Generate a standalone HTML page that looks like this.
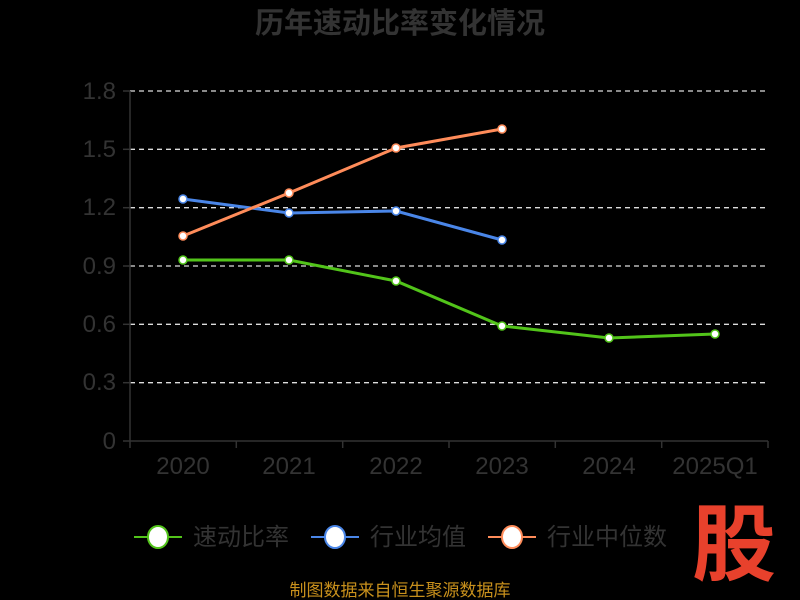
<!DOCTYPE html>
<html><head><meta charset="utf-8"><style>
html,body{margin:0;padding:0;background:#000;width:800px;height:600px;overflow:hidden}
text{font-family:"Liberation Sans","Noto Sans CJK SC",sans-serif}
</style></head><body>
<svg width="800" height="600" xmlns="http://www.w3.org/2000/svg">
<rect width="800" height="600" fill="#000"/>
<text x="400" y="33" text-anchor="middle" font-size="29" font-weight="bold" fill="#333">历年速动比率变化情况</text>
<g stroke="#ddd" stroke-dasharray="5,4" stroke-width="1.3">
<line x1="130" y1="91" x2="768" y2="91"/><line x1="130" y1="149.3" x2="768" y2="149.3"/>
<line x1="130" y1="207.7" x2="768" y2="207.7"/><line x1="130" y1="266" x2="768" y2="266"/>
<line x1="130" y1="324.3" x2="768" y2="324.3"/><line x1="130" y1="382.7" x2="768" y2="382.7"/>
</g>
<g stroke="#333" stroke-width="1.5">
<line x1="130" y1="91" x2="130" y2="441"/><line x1="130" y1="441" x2="768" y2="441"/>
<line x1="130" y1="441" x2="130" y2="448"/><line x1="236.3" y1="441" x2="236.3" y2="448"/>
<line x1="342.7" y1="441" x2="342.7" y2="448"/><line x1="449" y1="441" x2="449" y2="448"/>
<line x1="555.3" y1="441" x2="555.3" y2="448"/><line x1="661.7" y1="441" x2="661.7" y2="448"/>
<line x1="768" y1="441" x2="768" y2="448"/>
<line x1="123" y1="91" x2="130" y2="91"/><line x1="123" y1="149.3" x2="130" y2="149.3"/>
<line x1="123" y1="207.7" x2="130" y2="207.7"/><line x1="123" y1="266" x2="130" y2="266"/>
<line x1="123" y1="324.3" x2="130" y2="324.3"/><line x1="123" y1="382.7" x2="130" y2="382.7"/>
<line x1="123" y1="441" x2="130" y2="441"/>
</g>
<g fill="#333" font-size="24" text-anchor="end">
<text x="116" y="99">1.8</text><text x="116" y="157">1.5</text><text x="116" y="215">1.2</text>
<text x="116" y="274">0.9</text><text x="116" y="332">0.6</text><text x="116" y="390">0.3</text><text x="116" y="449">0</text>
</g>
<g fill="#333" font-size="24" text-anchor="middle">
<text x="183" y="474">2020</text><text x="289" y="474">2021</text><text x="396" y="474">2022</text>
<text x="502" y="474">2023</text><text x="609" y="474">2024</text><text x="715" y="474">2025Q1</text>
</g>
<polyline fill="none" stroke="#52c41a" stroke-width="3" points="183,260 289,260 396,281 502,326 609,338 715,334"/>
<polyline fill="none" stroke="#4a86e8" stroke-width="3" points="183,199 289,213 396,211 502,240"/>
<polyline fill="none" stroke="#ff8c5a" stroke-width="3" points="183,236 289,193 396,148 502,129"/>
<g fill="#fff" stroke="#52c41a" stroke-width="1.5">
<circle cx="183" cy="260" r="4"/><circle cx="289" cy="260" r="4"/><circle cx="396" cy="281" r="4"/>
<circle cx="502" cy="326" r="4"/><circle cx="609" cy="338" r="4"/><circle cx="715" cy="334" r="4"/></g>
<g fill="#fff" stroke="#4a86e8" stroke-width="1.5">
<circle cx="183" cy="199" r="4"/><circle cx="289" cy="213" r="4"/><circle cx="396" cy="211" r="4"/><circle cx="502" cy="240" r="4"/></g>
<g fill="#fff" stroke="#ff8c5a" stroke-width="1.5">
<circle cx="183" cy="236" r="4"/><circle cx="289" cy="193" r="4"/><circle cx="396" cy="148" r="4"/><circle cx="502" cy="129" r="4"/></g>
<line x1="134" y1="537" x2="182" y2="537" stroke="#52c41a" stroke-width="2"/>
<ellipse cx="158" cy="537" rx="10" ry="11" fill="#fff" stroke="#52c41a" stroke-width="2"/>
<text x="193" y="545" font-size="24" fill="#333">速动比率</text>
<line x1="311" y1="537" x2="359" y2="537" stroke="#4a86e8" stroke-width="2"/>
<ellipse cx="335" cy="537" rx="10" ry="11" fill="#fff" stroke="#4a86e8" stroke-width="2"/>
<text x="370" y="545" font-size="24" fill="#333">行业均值</text>
<line x1="488" y1="537" x2="536" y2="537" stroke="#ff8c5a" stroke-width="2"/>
<ellipse cx="512" cy="537" rx="10" ry="11" fill="#fff" stroke="#ff8c5a" stroke-width="2"/>
<text x="547" y="545" font-size="24" fill="#333">行业中位数</text>
<text x="734" y="574" text-anchor="middle" font-size="84" font-weight="bold" fill="#e8412c">股</text>
<text x="400" y="596" text-anchor="middle" font-size="17" fill="#c8901c">制图数据来自恒生聚源数据库</text>
</svg>
</body></html>
